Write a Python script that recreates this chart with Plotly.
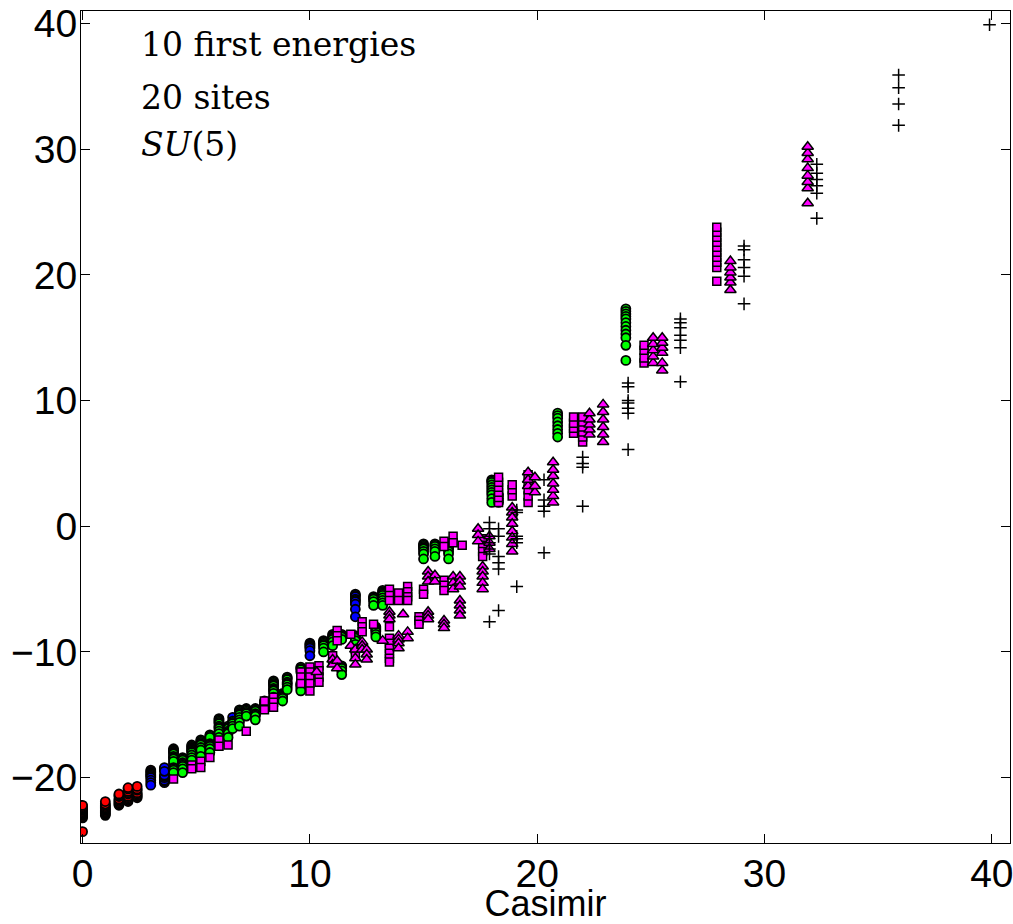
import plotly.graph_objects as go

# ---------------- data (Casimir value, list of energies) ----------------
red_cas = [0, 1.0, 1.6, 2.0, 2.4, 3.0]
red_E = [
    [-24.3, -23.2, -23.1, -23.0, -22.9, -22.8, -22.7, -22.6, -22.5, -22.4, -22.3, -22.2],
    [-23.0, -22.9, -22.8, -22.7, -22.6, -22.5, -22.4, -22.3, -22.2, -22.1, -21.9],
    [-22.2, -22.1, -22.0, -21.9, -21.8, -21.7, -21.5, -21.4, -21.3],
    [-21.9, -21.8, -21.7, -21.6, -21.5, -21.3, -21.2, -21.1, -20.9, -20.8],
    [-21.6, -21.5, -21.4, -21.3, -21.2, -21.0, -20.9, -20.7],
    [-19.4],
]

blue_cas = [3.0, 3.6, 4.0, 4.4, 5.2, 5.6, 6.6, 10.0, 12.0]
blue_E = [
    [-19.5, -19.6, -19.7, -19.8, -19.9, -20.0, -20.2, -20.4, -20.6],
    [-20.4, -20.3, -20.2, -20.0, -19.9, -19.8, -19.4, -19.3, -19.2, -19.5],
    [-18.9],
    [-18.7],
    [-18.0],
    [-17.0],
    [-15.2],
    [-9.3, -9.4, -9.5, -9.6, -9.7, -9.9, -10.3],
    [-5.4, -5.5, -5.6, -5.8, -5.9, -6.0, -6.2, -6.6, -7.2],
]

green_cas = [4.0, 4.4, 4.8, 5.2, 5.6, 6.0, 6.4, 6.6, 6.9, 7.2, 7.6, 8.0, 8.4, 8.8, 9.0,
             9.6, 10.6, 11.0, 11.4, 12.0, 12.8, 12.9, 13.2, 15.0, 15.5, 16.1, 18.0, 18.3,
             20.9, 23.9]
green_E = [
    [-17.7, -17.8, -17.9, -18.0, -18.1, -18.3, -18.4, -18.5, -18.7, -19.2, -19.3, -19.4, -19.6],
    [-18.4, -18.5, -18.6, -18.8, -18.9, -19.0, -19.1, -19.3, -19.6],
    [-17.4, -17.5, -17.6, -17.7, -17.8, -17.9, -18.0, -18.2, -18.4, -18.6],
    [-17.0, -17.1, -17.2, -17.3, -17.4, -17.6, -17.8, -18.3],
    [-16.6, -16.7, -16.8, -17.3, -17.4, -17.5, -17.7, -18.0],
    [-15.3, -15.4, -15.5, -15.6, -15.7, -15.9, -16.0, -16.1, -16.3, -16.5, -16.8],
    [-15.9, -16.0, -16.1, -16.3, -16.4, -16.5, -16.8],
    [-15.5, -15.6, -15.7, -15.9, -16.1],
    [-14.6, -14.7, -14.8, -14.9, -15.0, -15.2, -15.4, -15.6, -15.9],
    [-14.5, -14.6, -14.7, -14.8, -14.9, -15.1],
    [-14.5, -14.6, -14.7, -14.9, -15.0, -15.1, -15.4],
    [-13.9, -14.0, -14.1, -14.2, -14.3, -14.5],
    [-12.3, -12.4, -12.5, -12.6, -12.7, -12.9, -13.0, -13.1, -13.3, -13.6],
    [-13.3, -13.4, -13.5, -13.6, -13.7, -13.9],
    [-12.0, -12.1, -12.2, -12.4, -12.5, -12.6, -12.8, -13.0],
    [-11.2, -11.3, -11.4, -11.6, -12.5, -12.6, -12.7, -12.9, -13.1],
    [-9.1, -9.2, -9.3, -9.4, -9.5, -9.7, -10.0],
    [-8.6, -8.7, -8.8, -8.9, -9.0, -9.2, -9.5],
    [-8.6, -8.7, -8.8, -9.0, -11.1, -11.2, -11.3, -11.5, -11.8],
    [-8.7, -8.8, -8.9, -9.1, -9.4, -9.8],
    [-5.6, -5.7, -5.8, -6.0, -6.3],
    [-8.0, -8.1, -8.2, -8.3, -8.4, -8.6, -8.8],
    [-5.1, -5.2, -5.3, -5.4, -5.5, -5.7, -5.9, -6.1, -6.3],
    [-1.4, -1.5, -1.6, -1.7, -1.8, -2.0, -2.2, -2.6],
    [-1.4, -1.5, -1.6, -1.8, -2.0, -2.4],
    [-1.6, -1.7, -1.8, -2.0, -2.2, -2.6],
    [3.7, 3.6, 3.5, 3.3, 3.1, 2.9, 2.7, 2.5, 2.2, 1.9],
    [2.5, 2.2, 1.9],
    [9.0, 8.8, 8.6, 8.3, 8.0, 7.7, 7.4, 7.1],
    [17.3, 17.1, 16.9, 16.7, 16.5, 16.2, 15.9, 15.6, 15.3, 15.0, 14.4, 13.2],
]

square_cas = [4.0, 4.8, 5.2, 5.6, 6.0, 6.4, 7.2, 8.0, 8.4, 9.6, 10.0, 10.4, 11.0, 11.2,
              11.8, 12.0, 12.3, 12.8, 13.5, 13.9, 14.3, 14.8, 15.0, 15.9, 16.3, 16.7,
              17.6, 18.3, 18.9, 19.6, 21.6, 22.0, 24.7, 27.9]
square_E = [
    [-20.1],
    [-19.0, -19.3],
    [-18.7, -19.2],
    [-18.4],
    [-17.0, -17.5],
    [-17.4],
    [-16.3],
    [-13.9, -14.6],
    [-13.6, -14.0, -14.4],
    [-11.6, -12.0, -12.5],
    [-11.2, -11.6, -12.0, -12.5, -13.1],
    [-11.1, -11.5, -12.0, -12.4],
    [-10.3, -10.8],
    [-8.3, -8.7, -9.1],
    [-8.6],
    [-9.8, -10.3],
    [-7.6, -8.0, -8.4],
    [-7.8],
    [-5.0, -5.5, -5.9, -8.0, -8.9, -9.3, -9.7, -10.1, -10.5, -10.8],
    [-5.3, -5.9],
    [-4.8, -5.2, -5.6, -5.9],
    [-7.2, -7.5, -7.8],
    [-5.0, -5.4],
    [-1.2, -1.6, -4.3, -4.7, -5.1],
    [-0.8, -1.3],
    [-1.5],
    [-1.0, -1.5, -2.0, -2.4],
    [1.9, 2.3, 2.7, 3.1, 3.5, 3.9],
    [2.4, 2.9, 3.3],
    [1.9, 2.4, 2.9, 3.4, 4.1],
    [7.4, 7.8, 8.2, 8.7],
    [6.7, 7.1, 7.5, 7.9, 8.3, 8.7],
    [13.0, 13.4, 14.0, 14.4],
    [19.5, 20.6, 21.0, 21.4, 21.8, 22.2, 22.6, 23.0, 23.4, 23.8],
]

tri_cas = [10.3, 11.0, 11.2, 11.8, 12.0, 12.3, 12.5, 13.2, 13.5, 13.9, 14.1, 14.3, 15.2,
           15.5, 15.9, 16.3, 16.6, 17.4, 17.6, 17.9, 18.9, 19.6, 19.9, 20.7, 22.3, 22.9,
           25.1, 25.5, 28.5, 31.9]
tri_E = [
    [-11.6],
    [-10.6, -11.0],
    [-10.7, -11.3],
    [-9.5],
    [-9.8, -10.5, -11.0],
    [-9.2, -9.5, -9.8],
    [-9.8, -10.2, -10.6],
    [-9.1],
    [-6.8, -7.1, -7.4],
    [-8.7, -9.0, -9.3, -9.7],
    [-7.0],
    [-8.4, -8.9],
    [-3.6, -4.0, -4.4, -6.8, -7.1, -7.4],
    [-3.9, -4.4],
    [-7.5, -7.8, -8.1],
    [-4.0, -4.5, -5.0],
    [-4.0, -4.4, -4.8, -5.9, -6.3, -6.7, -7.1],
    [-0.2, -0.7, -1.2],
    [-3.2, -3.6, -4.0, -4.5, -5.0],
    [-0.8, -1.3, -1.8],
    [1.5, 1.1, 0.7, 0.2, -0.4, -0.9, -1.4, -2.0],
    [3.2, 3.7, 4.3],
    [2.7, 3.2, 3.9],
    [1.9, 2.4, 2.9, 3.4, 4.0, 4.5, 5.1],
    [7.3, 7.7, 8.1, 8.5, 9.0],
    [6.7, 7.3, 7.9, 8.5, 9.1, 9.7],
    [13.0, 13.5, 14.0, 14.5, 15.0],
    [12.4, 13.0, 13.8, 14.2, 14.6, 15.0],
    [18.8, 19.4, 19.8, 20.2, 20.6, 21.1],
    [25.7, 26.9, 27.4, 27.9, 28.5, 29.2, 29.7, 30.2],
]

plus_cas = [17.9, 18.3, 19.1, 20.3, 22.0, 24.0, 26.3, 29.1, 32.3, 35.9, 39.9]
plus_E = [
    [0.3, -0.2, -0.8, -1.3, -1.8, -2.2, -7.6],
    [-0.2, -0.8, -2.4, -2.9, -3.4, -6.7],
    [1.1, 1.3, -0.8, -1.0, -1.3, -4.8],
    [1.2, 1.6, 2.1, 3.7, -2.1],
    [4.7, 5.0, 5.5, 1.6],
    [9.0, 9.4, 9.8, 10.0, 11.1, 11.4, 6.1],
    [14.2, 14.8, 15.2, 15.8, 16.2, 16.5, 11.5],
    [19.9, 20.6, 21.2, 22.0, 22.3, 17.7],
    [26.5, 27.1, 27.6, 28.1, 28.8, 24.5],
    [31.9, 33.6, 34.9, 35.9],
    [39.9],
]

x_ticks = [0, 10, 20, 30, 40]
y_ticks = [-20, -10, 0, 10, 20, 30, 40]
x_label = "Casimir"
text_lines = ["10 first energies", "20 sites", "<i>SU</i>(5)"]


def flatten(cas, E):
    xs, ys = [], []
    for c, es in zip(cas, E):
        for e in es:
            xs.append(c)
            ys.append(e)
    return xs, ys


fig = go.Figure()

def add(cas, E, symbol, fill, size, lw=1.8, line_color="black"):
    xs, ys = flatten(cas, E)
    fig.add_trace(go.Scatter(
        x=xs, y=ys, mode="markers", showlegend=False, hoverinfo="skip",
        marker=dict(symbol=symbol, color=fill, size=size,
                    line=dict(color=line_color, width=lw)),
    ))

add(red_cas, red_E, "circle", "#ff0000", 9)
add(blue_cas, blue_E, "circle", "#0000ff", 9)
add(green_cas, green_E, "circle", "#00ff00", 9)
add(square_cas, square_E, "square", "#ff00ff", 8, lw=1.5)
add(tri_cas, tri_E, "triangle-up", "#ff00ff", 10, lw=1.5)
add(plus_cas, plus_E, "cross-thin", "black", 9, lw=1.5)

tick_font = dict(family="Liberation Sans, Arial, sans-serif", size=39, color="black")
axis_common = dict(
    showgrid=False, zeroline=False, showline=True, linecolor="black", linewidth=1,
    mirror="ticks", ticks="inside", ticklen=9, tickwidth=1, tickcolor="black",
    tickfont=tick_font, automargin=False, ticklabeloverflow="allow",
)

fig.update_layout(
    width=1013, height=924,
    margin=dict(l=81, r=3, t=11, b=81),
    paper_bgcolor="white", plot_bgcolor="white",
    xaxis=dict(range=[-0.07, 40.8], tickvals=x_ticks, ticklabelstandoff=-4, **axis_common,
               title=dict(text=x_label, standoff=0,
                          font=dict(family="Liberation Sans, Arial, sans-serif", size=36, color="black"))),
    yaxis=dict(range=[-25.2, 41.0], tickvals=y_ticks, ticklabelstandoff=-5, **axis_common),
)

ys_txt = [38.3, 34.1, 30.4]
for t, yv in zip(text_lines, ys_txt):
    fig.add_annotation(x=2.5, y=yv, xref="x", yref="y", text=t, showarrow=False,
                       xanchor="left", yanchor="middle",
                       font=dict(family="DejaVu Serif, serif", size=33, color="black"))

fig.write_html("out.html", config={"displayModeBar": False},
               post_script="document.body.style.margin='0px';")
